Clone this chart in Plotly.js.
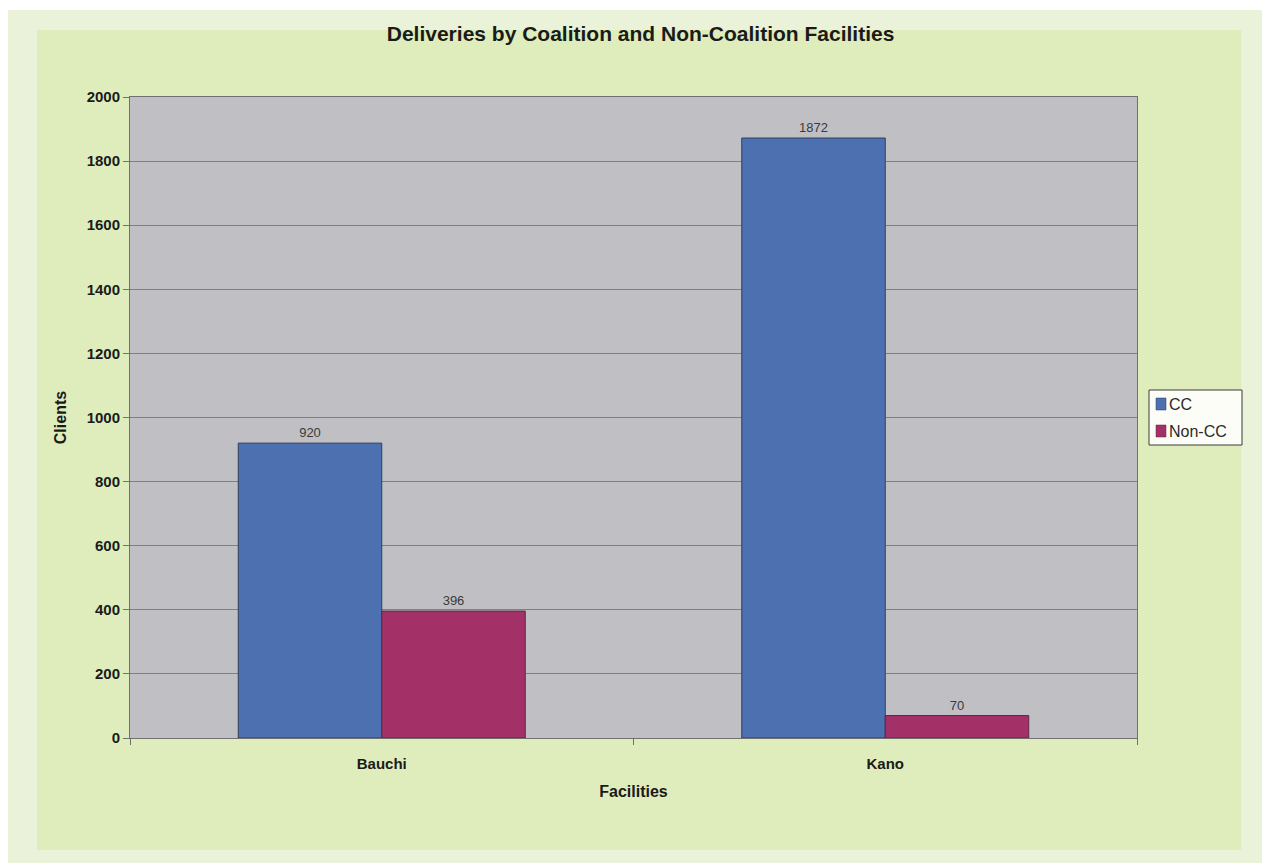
<!DOCTYPE html>
<html>
<head>
<meta charset="utf-8">
<script src="https://cdn.plot.ly/plotly-3.0.1.min.js"></script>
<style>
  html, body { margin: 0; padding: 0; background: #ffffff; }
  #frame-outer { position: absolute; left: 8px; top: 10px; width: 1254px; height: 853px; background: #eaf3da; }
  #frame-inner { position: absolute; left: 37px; top: 30px; width: 1204px; height: 820px; background: #dfedbd; }
  #chart { position: absolute; left: 0; top: 0; width: 1262px; height: 863px; }
</style>
</head>
<body>
<div id="frame-outer"></div>
<div id="frame-inner"></div>
<div id="chart"></div>
<script>
// Deliveries per state, split by coalition membership
const facilities = ['Bauchi', 'Kano'];
const seriesNames = ['CC', 'Non-CC'];
const ccValues = [920, 1872];
const nonCcValues = [396, 70];
const yTicks = [0, 200, 400, 600, 800, 1000, 1200, 1400, 1600, 1800, 2000];

const seriesColors = ['#4c70b0', '#a33168'];
const seriesEdges = ['#2f3f5f', '#5a2a40'];

const FONT = 'Liberation Sans, Arial, sans-serif';
const labelFont = { family: FONT, size: 13, color: '#3a3a3a' };

const W = 1262, H = 863;
const M = { l: 130, r: 125, t: 97, b: 125 };
// pixel -> paper coordinates, used for the compact legend box
const px = v => (v - M.l) / (W - M.l - M.r);
const py = v => (H - M.b - v) / (H - M.t - M.b);

const traces = [ccValues, nonCcValues].map((vals, i) => ({
  type: 'bar', name: seriesNames[i], x: facilities, y: vals,
  text: vals.map(String), textposition: 'outside', cliponaxis: false,
  textfont: labelFont,
  marker: { color: seriesColors[i], line: { color: seriesEdges[i], width: 1 } }
}));

// Compact Excel-style legend: small swatch followed directly by the label
const shapes = [{
  type: 'rect', xref: 'paper', yref: 'paper',
  x0: px(1149), x1: px(1242), y0: py(445), y1: py(390),
  fillcolor: '#fdfdf8', line: { color: '#3a3a3a', width: 1 }
}];
const annotations = [];
seriesNames.forEach((name, i) => {
  const cy = 404 + i * 27;
  shapes.push({
    type: 'rect', xref: 'paper', yref: 'paper',
    x0: px(1156), x1: px(1166), y0: py(cy + 6), y1: py(cy - 6),
    fillcolor: seriesColors[i], line: { color: seriesEdges[i], width: 0.5 }
  });
  annotations.push({
    xref: 'paper', yref: 'paper', x: px(1167), y: py(cy),
    xanchor: 'left', yanchor: 'middle', showarrow: false,
    text: name, font: { family: FONT, size: 16, color: '#2a2a2a' }
  });
});

const layout = {
  width: W, height: H,
  paper_bgcolor: 'rgba(0,0,0,0)',
  plot_bgcolor: '#c0c0c4',
  margin: M,
  barmode: 'group', bargap: 0.43, bargroupgap: 0,
  showlegend: false,
  shapes: shapes,
  annotations: annotations,
  title: {
    text: '<b>Deliveries by Coalition and Non-Coalition Facilities</b>',
    x: 0.507, xref: 'paper', y: 0.969, yref: 'container', yanchor: 'top',
    font: { family: FONT, size: 21, color: '#1a1a1a' }
  },
  xaxis: {
    title: { text: '<b>Facilities</b>', standoff: 14,
      font: { family: FONT, size: 16, color: '#1a1a1a' } },
    tickfont: { family: FONT, weight: 'bold', size: 15, color: '#1a1a1a' },
    ticklabelstandoff: 12,
    ticks: 'outside', tickson: 'boundaries', ticklen: 6, tickcolor: '#707070',
    showline: true, linecolor: '#707070', linewidth: 1, mirror: true,
    showgrid: false
  },
  yaxis: {
    title: { text: '<b>Clients</b>', standoff: 16,
      font: { family: FONT, size: 16, color: '#1a1a1a' } },
    range: [0, 2000], tickvals: yTicks, ticktext: yTicks.map(String),
    tickfont: { family: FONT, weight: 'bold', size: 15, color: '#1a1a1a' },
    ticks: 'outside', ticklen: 6, tickcolor: '#707070',
    showline: true, linecolor: '#707070', linewidth: 1, mirror: true,
    gridcolor: '#808080', gridwidth: 1, zeroline: false
  }
};

Plotly.newPlot('chart', traces, layout, { displayModeBar: false, staticPlot: true });
</script>
</body>
</html>
